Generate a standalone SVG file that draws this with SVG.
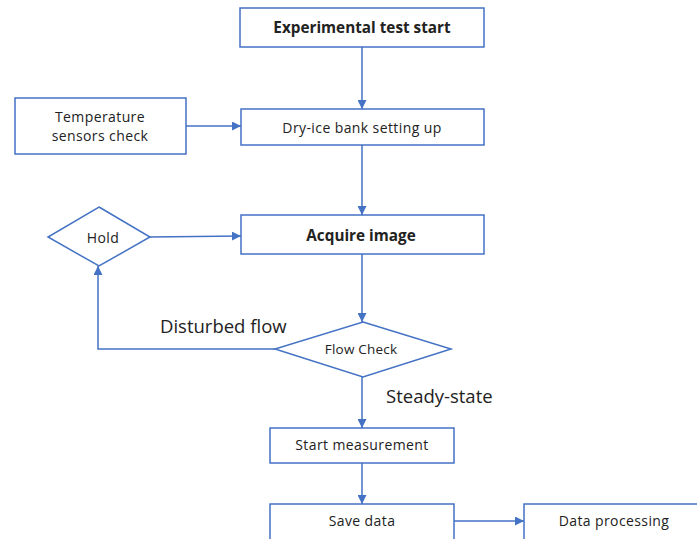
<svg xmlns="http://www.w3.org/2000/svg" width="697" height="539" viewBox="0 0 697 539">
<style>
.n{fill:#fff;stroke:#4472C4;stroke-width:1.5}
.t{font-family:"Open Sans","Noto Sans",sans-serif;font-size:14px;letter-spacing:0.4px;fill:#222;text-anchor:middle;dominant-baseline:central}
.b{font-weight:bold;font-size:15.3px;letter-spacing:0}
.l{font-family:"Open Sans","Noto Sans",sans-serif;font-size:18.5px;fill:#222}
.c{fill:none;stroke:#4472C4;stroke-width:1.5}
</style>
<defs>
<marker id="a" viewBox="0 0 10 10" refX="10" refY="5" markerWidth="9" markerHeight="9" markerUnits="userSpaceOnUse" orient="auto"><path d="M0,0L10,5L0,10z" fill="#4472C4"/></marker>
</defs>
<rect width="697" height="539" fill="#fff"/>
<g id="connectors">
<path class="c" d="M362,47V109" marker-end="url(#a)"/>
<path class="c" d="M186,126H241" marker-end="url(#a)"/>
<path class="c" d="M362,145V215" marker-end="url(#a)"/>
<path class="c" d="M150,237L241,236" marker-end="url(#a)"/>
<path class="c" d="M362,254V322" marker-end="url(#a)"/>
<path class="c" d="M275,349H98V266" marker-end="url(#a)"/>
<path class="c" d="M362,377V428" marker-end="url(#a)"/>
<path class="c" d="M362,463V504" marker-end="url(#a)"/>
<path class="c" d="M454,521H524" marker-end="url(#a)"/>
</g>
<g id="start"><rect class="n" x="240" y="8" width="244" height="39"/><text class="t b" x="362" y="27">Experimental test start</text></g>
<g id="temp"><rect class="n" x="15" y="98" width="171" height="56"/><text class="t" x="100" y="116">Temperature</text><text class="t" x="100" y="135">sensors check</text></g>
<g id="dryice"><rect class="n" x="241" y="109" width="243" height="36"/><text class="t" x="362" y="127">Dry-ice bank setting up</text></g>
<g id="hold"><path class="n" d="M99,207L150,237L99,266L48,237Z"/><text class="t" x="103" y="237">Hold</text></g>
<g id="acquire"><rect class="n" x="241" y="215" width="243" height="39"/><text class="t b" x="361" y="235">Acquire image</text></g>
<g id="flowcheck"><path class="n" d="M363,322L451,349L363,377L275,349Z"/><text class="t" x="361" y="349" style="font-size:13.5px;letter-spacing:0.2px">Flow Check</text></g>
<g id="labels"><text class="l" x="160" y="333">Disturbed flow</text><text class="l" x="386" y="403">Steady-state</text></g>
<g id="measure"><rect class="n" x="270" y="428" width="184" height="35"/><text class="t" x="362" y="444">Start measurement</text></g>
<g id="save"><rect class="n" x="270" y="504" width="184" height="40"/><text class="t" x="362" y="520">Save data</text></g>
<g id="proc"><rect class="n" x="524" y="504" width="180" height="40"/><text class="t" x="614" y="520">Data processing</text></g>
</svg>
